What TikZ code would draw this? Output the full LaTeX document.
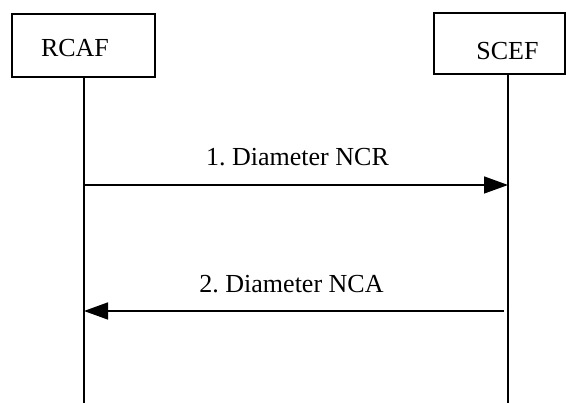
\documentclass[tikz,border=0pt]{standalone}
\usepackage{fontspec}
\setmainfont{Liberation Serif}
\usepackage{tikz}
\usetikzlibrary{arrows.meta, calc}
\frenchspacing

\tikzset{
  entbox/.style={draw=black, line width=1.5pt, fill=white, inner sep=0pt},
  enttext/.style={anchor=base, font=\fontsize{26}{30}\selectfont},
  lifeline/.style={line width=1.5pt},
  msg/.style={line width=1.5pt, -{Triangle[length=24pt, width=17pt]}},
  msgtext/.style={anchor=base, font=\fontsize{26}{30}\selectfont}
}

\begin{document}
\begin{tikzpicture}[x=1pt, y=-1pt]
  \useasboundingbox (0,0) rectangle (566,403);
  % boxes of the two entities
  \node[entbox, minimum width=143pt, minimum height=63pt] (rcaf) at (83.5,45.5) {};
  \node[entbox, minimum width=131pt, minimum height=61pt] (scef) at (499.5,43.5) {};
  \node[enttext] (rcafname) at (75,57) {RCAF};
  \node[enttext] (scefname) at (507.5,60) {SCEF};
  % lifelines, top and bottom ends
  \coordinate (rcafTop) at (84,77);
  \coordinate (rcafEnd) at (84,403);
  \coordinate (scefTop) at (508,74);
  \coordinate (scefEnd) at (508,403);
  \draw[lifeline] (rcafTop) -- (rcafEnd);
  \draw[lifeline] (scefTop) -- (scefEnd);
  % messages
  \coordinate (ncrA) at (84,185);
  \coordinate (ncrB) at (508,185);
  \coordinate (ncaA) at (504,311);
  \coordinate (ncaB) at (84,311);
  \draw[msg] (ncrA) -- (ncrB);
  \draw[msg] (ncaA) -- (ncaB);
  \node[msgtext] (ncrlabel) at (297.5,166) {1. Diameter NCR};
  \node[msgtext] (ncalabel) at (291.5,293) {2. Diameter NCA};
\end{tikzpicture}
\end{document}
